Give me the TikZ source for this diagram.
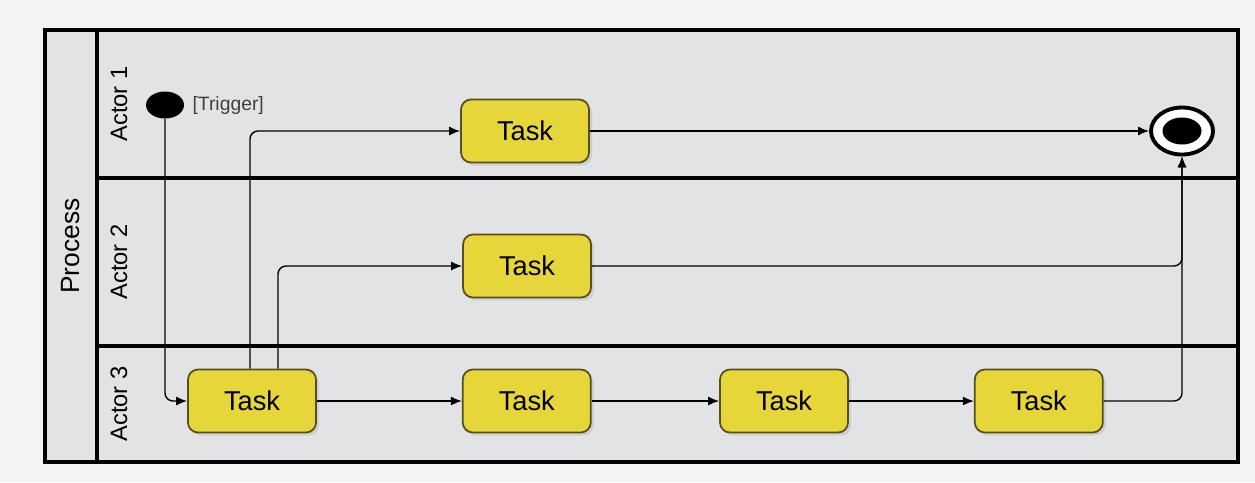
\documentclass[tikz,border=0pt]{standalone}
\usepackage{fontspec}
\setmainfont{Liberation Sans}
\usepackage{xcolor}
\definecolor{taskyellow}{RGB}{230, 214, 58}
\definecolor{taskedge}{RGB}{88, 78, 32}
\definecolor{lanegray}{RGB}{226, 227, 229}
\definecolor{papergray}{RGB}{243, 243, 241}
\usepackage{tikz}
\usetikzlibrary{
    shapes.geometric,
    arrows.meta,
    positioning,
    shadows
}
\tikzstyle{task} = [
    rectangle, draw=taskedge,
    line width=1pt,
    rounded corners=2mm,
    minimum width=25.6mm,
    minimum height=12.6mm,
    text centered,
    fill=taskyellow,
    font=\fontsize{15.5}{18}\selectfont,
    drop shadow={opacity=0.2, shadow xshift=0.6mm, shadow yshift=-0.6mm}
]
\tikzstyle{startdot} = [
    ellipse,
    fill=black,
    minimum width=7.6mm,
    minimum height=5.4mm,
    inner sep=0pt
]
\tikzstyle{enddot} = [
    ellipse,
    draw,
    line width=2.2pt,
    fill=white,
    minimum width=12.4mm,
    minimum height=9.4mm,
    inner sep=0pt
]
\tikzstyle{lanelabel} = [
    rotate=90,
    font=\fontsize{13.5}{16}\selectfont
]
\tikzstyle{lane} = [
    line width=2pt
]
\tikzstyle{arrow} = [
    line width=0.8pt,
    -{Latex[length=2.2mm,width=1.8mm]},
    rounded corners=1.6mm
]

\begin{document}
\begin{tikzpicture}[x=0.2mm, y=-0.2mm, node distance=0.7cm and 0.8cm]

\useasboundingbox (0,0) rectangle (1255,482);
\fill[papergray] (0,0) rectangle (1255,482);

% pool and lanes
\filldraw[lane, fill=lanegray] (45,30) rectangle (1238,462);
\draw[lane] (97,30) -- (97,462);
\draw[lane] (97,178) -- (1238,178);
\draw[lane] (97,346) -- (1238,346);

\node (pool) [rotate=90, font=\fontsize{15}{18}\selectfont] at (71,246) {Process};
\node (actor1) [lanelabel] at (119,104) {Actor 1};
\node (actor2) [lanelabel] at (119,262) {Actor 2};
\node (actor3) [lanelabel] at (119,404) {Actor 3};

% start and end
\node (start) [startdot] at (165,105) {};
\node (trig) [right=0.4mm of start, font=\fontsize{11}{13}\selectfont, text=black!75] {[Trigger]};
\node (endN) [enddot] at (1182,131) {};
\node (endin) [startdot, minimum width=7.8mm, minimum height=5.4mm] at (endN.center) {};

% tasks
\node (tA1) [task] at (525,131) {Task};
\node (tA2) [task] at (527,266) {Task};
\node (t31) [task] at (252,401) {Task};
\node (t32) [task, right=29mm of t31] {Task};
\node (t33) [task, right=25.5mm of t32] {Task};
\node (t34) [task, right=25mm of t33] {Task};

\draw [arrow] (start) |- (t31.west);
\draw [arrow] ([xshift=-0.4mm]t31.north) |- (tA1.west);
\draw [arrow] ([xshift=5.2mm]t31.north) |- (tA2.west);
\draw [arrow] (t31) -- (t32);
\draw [arrow] (t32) -- (t33);
\draw [arrow] (t33) -- (t34);
\draw [arrow] (tA1) -- (endN);
\draw [arrow] (tA2.east) -| (endN.south);
\draw [arrow] (t34.east) -| (endN.south);

\end{tikzpicture}
\end{document}
